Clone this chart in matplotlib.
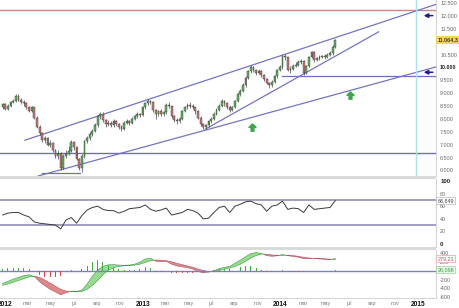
import numpy as np
import pandas as pd
import matplotlib
matplotlib.use('Agg')
import matplotlib.pyplot as plt
from matplotlib.patches import Rectangle

plt.rcParams['font.family'] = ['Liberation Sans', 'DejaVu Sans']

# weekly candles (IBEX 35), dec 2011 - may 2014
weeks = pd.date_range('2011-12-26', periods=127, freq='7D')
first_open = 8450
closes = [
    8566, 8400, 8520, 8650, 8700, 8900, 8750, 8650, 8600, 8450,
    8300, 8450, 8050, 7700, 7450, 7200, 7250, 7000, 7050, 6800,
    6550, 6650, 6100, 6550, 6650, 6750, 7100, 6900, 6450, 6100,
    6550, 7150, 7250, 7400, 7550, 7750, 8100, 8200, 7950, 7800,
    7850, 7750, 7900, 7800, 7700, 7600, 7850, 7900, 7850, 8000,
    8100, 8200, 8150, 8450, 8600, 8700, 8650, 8350, 8200, 8300,
    8200, 8250, 8550, 8500, 8100, 7950, 7900, 8000, 8300, 8450,
    8550, 8500, 8450, 8300, 8050, 7800, 7700, 7750, 7900, 8000,
    8200, 8350, 8500, 8700, 8600, 8450, 8350, 8450, 8700, 8950,
    9100, 9300, 9600, 9850, 10000, 9900, 9800, 9850, 9700, 9550,
    9400, 9300, 9450, 9650, 9900, 10000, 10450, 10400, 9900, 9950,
    10050, 10100, 10200, 10250, 9800, 10050, 10400, 10600, 10300, 10350,
    10400, 10450, 10400, 10500, 10550, 10800, 11064]
highs = [
    8620, 8610, 8580, 8700, 8780, 8960, 8950, 8820, 8720, 8650,
    8520, 8500, 8480, 8100, 7760, 7500, 7350, 7300, 7180, 7100,
    6850, 6800, 6700, 6620, 6800, 6950, 7200, 7150, 6950, 6500,
    6620, 7200, 7350, 7480, 7620, 7850, 8150, 8260, 8250, 8000,
    7950, 7920, 8000, 7960, 7850, 7750, 7900, 7980, 7950, 8060,
    8150, 8260, 8230, 8500, 8650, 8780, 8750, 8680, 8400, 8350,
    8380, 8320, 8620, 8640, 8520, 8150, 8020, 8080, 8350, 8500,
    8620, 8640, 8560, 8480, 8350, 8100, 7830, 7820, 7960, 8080,
    8250, 8420, 8560, 8760, 8750, 8650, 8500, 8520, 8750, 9000,
    9150, 9380, 9650, 9900, 10080, 10050, 9950, 9950, 9900, 9750,
    9600, 9450, 9500, 9700, 9950, 10080, 10500, 10520, 10420, 10050,
    10120, 10200, 10280, 10320, 10280, 10100, 10450, 10650, 10620, 10420,
    10480, 10500, 10520, 10560, 10620, 10850, 11100]
lows = [
    8400, 8330, 8350, 8480, 8600, 8650, 8680, 8580, 8520, 8380,
    8250, 8260, 7980, 7650, 7380, 7100, 7080, 6950, 6900, 6720,
    6480, 6450, 6030, 6050, 6480, 6600, 6700, 6800, 6400, 6020,
    5950, 6500, 7050, 7180, 7350, 7500, 7700, 8000, 7880, 7700,
    7720, 7680, 7700, 7720, 7600, 7520, 7560, 7800, 7760, 7800,
    7950, 8050, 8080, 8120, 8400, 8550, 8580, 8280, 8000, 8120,
    8130, 8100, 8200, 8430, 8020, 7880, 7800, 7850, 7960, 8250,
    8400, 8430, 8380, 8200, 7980, 7720, 7600, 7620, 7700, 7850,
    7950, 8150, 8300, 8450, 8520, 8380, 8280, 8300, 8420, 8650,
    8900, 9050, 9250, 9550, 9800, 9820, 9700, 9750, 9620, 9480,
    9350, 9200, 9250, 9400, 9600, 9850, 9950, 10300, 9850, 9800,
    9900, 10000, 10050, 10150, 9700, 9750, 10000, 10350, 10200, 10250,
    10300, 10350, 10320, 10380, 10450, 10500, 10750]

# indicators, read every second week
ind_weeks = weeks[::2]
rsi = [46, 49, 50, 50, 46, 43, 35, 33, 32, 31, 30, 24, 38, 42, 33, 45,
       54, 58, 60, 55, 53, 53, 49, 52, 56, 57, 58, 62, 55, 52, 54, 57,
       46, 48, 50, 55, 53, 49, 40, 41, 50, 58, 60, 50, 60, 63, 67, 68,
       64, 62, 52, 60, 62, 68, 55, 57, 56, 50, 62, 55, 56, 57, 58, 68.85]
macd = [-290, -240, -190, -150, -110, -90, -130, -250, -340, -420, -480, -545,
        -500, -460, -470, -440, -300, -120, 20, 100, 135, 140, 130, 125,
        130, 150, 200, 270, 285, 220, 205, 215, 150, 110, 90, 70,
        40, -20, -40, -30, 0, 50, 80, 100, 170, 240, 320, 390,
        415, 395, 345, 330, 340, 370, 345, 325, 310, 275, 275, 285,
        270, 262, 258, 279.21]
signal = [-330, -300, -260, -220, -180, -140, -125, -150, -210, -280, -350, -420,
          -460, -475, -475, -470, -420, -330, -220, -90, 10, 70, 100, 115,
          120, 130, 150, 190, 230, 245, 240, 230, 205, 170, 140, 110,
          80, 40, 5, -15, -10, 10, 40, 60, 100, 150, 215, 290,
          345, 380, 375, 360, 350, 350, 352, 345, 330, 305, 290, 285,
          280, 272, 265, 253.11]

# support / resistance levels
top_level = 12230
bottom_level = 6690
mid_level = 9680
low_level = 5900

price_ticks = [12500, 12000, 11500, 10500, 10000, 9500, 9000, 8500, 8000, 7500, 7000, 6500, 6000]
price_labels = ['12.500', '12.000', '11.500', '10.500', '10.000', '9.500', '9.000',
                '8.500', '8.000', '7.500', '7.000', '6.500', '6.000']
rsi_ticks = [100, 80, 60, 40, 20, 0]
macd_ticks = [400, 200, -200, -400, -600]
date_ticks = pd.date_range('2012-01-01', '2015-01-01', freq='2MS')
date_labels = ['2012', 'mar', 'may', 'jul', 'sep', 'nov',
               '2013', 'mar', 'may', 'jul', 'sep', 'nov',
               '2014', 'mar', 'may', 'jul', 'sep', 'nov', '2015']

W, H = 460, 308
fig = plt.figure(figsize=(W / 100, H / 100), dpi=100)


def panel(top, bottom, **kw):
    return fig.add_axes([0, 1 - bottom / H, 436 / W, (bottom - top) / H], **kw)


ax = panel(0, 176)
ax_rsi = panel(179, 247, sharex=ax)
ax_macd = panel(249.5, 298, sharex=ax)

for a in (ax, ax_rsi, ax_macd):
    for s in a.spines.values():
        s.set_visible(False)
    a.spines['right'].set_visible(True)
    a.spines['right'].set_color('#d5d5d5')
    a.yaxis.tick_right()
    a.tick_params(axis='y', length=0, pad=3, labelsize=3.9, labelcolor='#666666')
    a.tick_params(axis='x', length=0)
ax_macd.spines['bottom'].set_visible(True)
ax_macd.spines['bottom'].set_color('#d5d5d5')

# panel separators
for top, bottom in [(176, 179), (247, 249.5)]:
    fig.add_artist(Rectangle((0, 1 - bottom / H), 436 / W, (bottom - top) / H,
                             transform=fig.transFigure, color='#d9d9d9', lw=0))

# ---- candles
c = np.array(closes, dtype=float)
o = np.array([first_open] + closes[:-1], dtype=float)
up = c >= o
cols = np.where(up, '#5cb85c', '#d27878')
ax.vlines(weeks, lows, highs, color='#333333', lw=0.45, zorder=3)
ax.bar(weeks, np.maximum(np.abs(c - o), 12), bottom=np.minimum(o, c), width=4.8,
       color=cols, edgecolor='#333333', linewidth=0.3, zorder=4)

# levels and trend lines
line_c = '#7474c4'
ax.axhline(top_level, color='#c48a8a', lw=1)
ax.axhline(bottom_level, color='#6f6fb5', lw=1)
ax.plot([pd.Timestamp('2014-01-06'), pd.Timestamp('2015-02-17')], [mid_level, mid_level],
        color='#6f6fb5', lw=0.9)
ax.plot([pd.Timestamp('2012-04-08'), pd.Timestamp('2012-07-18')], [low_level, low_level],
        color='#6f6fb5', lw=0.9)
ax.plot([pd.Timestamp('2012-02-23'), pd.Timestamp('2015-02-20')], [7173, 12461], color=line_c, lw=0.9)
ax.plot([pd.Timestamp('2012-03-29'), pd.Timestamp('2015-02-20')], [5784, 10030], color=line_c, lw=0.9)
ax.plot([pd.Timestamp('2013-06-15'), pd.Timestamp('2014-09-18')], [7598, 11381], color=line_c, lw=0.9)

ax.axvline(pd.Timestamp('2014-12-26'), color='#a6e3ea', lw=1)

# arrows
for lvl in (12010, 9810):
    ax.annotate('', xy=(pd.Timestamp('2015-01-08'), lvl), xytext=(pd.Timestamp('2015-02-16'), lvl),
                arrowprops=dict(arrowstyle='-|>', color='#1c1c8a', lw=1.1, mutation_scale=6))
up_arrow = [(0, 1), (0.95, 0.05), (0.4, 0.05), (0.4, -1), (-0.4, -1), (-0.4, 0.05), (-0.95, 0.05), (0, 1)]
ax.scatter([pd.Timestamp('2013-10-18'), pd.Timestamp('2014-07-03')], [7675, 8910],
           marker=up_arrow, s=28, color='#3aa84a', zorder=5)

ax.set_ylim(5784, 12616)
ax.set_yticks(price_ticks)
ax.set_yticklabels(price_labels)
for lab in ax.get_yticklabels():
    if lab.get_text() == '10.000':
        lab.set_fontweight('bold')
        lab.set_color('#222222')
ytr = ax.get_yaxis_transform()
ax.text(1.003, closes[-1], '11.064,3', transform=ytr, fontsize=3.9, va='center', ha='left',
        bbox=dict(boxstyle='square,pad=0.2', fc='#f4d35e', ec='none'), clip_on=False)

# ---- RSI
ax_rsi.axhline(70, color='#9090b4', lw=1.2)
ax_rsi.axhline(30, color='#9090b4', lw=1.2)
ax_rsi.plot(ind_weeks, rsi, color='#3a3a3a', lw=0.7)
ax_rsi.set_ylim(-4.8, 103.2)
ax_rsi.set_yticks(rsi_ticks)
ax_rsi.set_yticklabels([str(t) for t in rsi_ticks])
for lab in ax_rsi.get_yticklabels():
    if lab.get_text() in ('100', '0'):
        lab.set_fontweight('bold')
        lab.set_color('#222222')
        lab.set_fontsize(4.3)
ax_rsi.text(1.003, rsi[-1], '68,849', transform=ax_rsi.get_yaxis_transform(), fontsize=3.9,
            va='center', ha='left', color='#444444',
            bbox=dict(boxstyle='square,pad=0.2', fc='white', ec='#aaaaaa', lw=0.4), clip_on=False)

# ---- MACD
m = np.array(macd)
sg = np.array(signal)
hist = m - sg
ax_macd.axhline(0, color='#8080b4', lw=1)
ax_macd.fill_between(ind_weeks, m, sg, where=m >= sg, interpolate=True,
                     color='#95dc8f', edgecolor='#3f9a3f', lw=0.4)
ax_macd.fill_between(ind_weeks, m, sg, where=m < sg, interpolate=True,
                     color='#e08888', edgecolor='#b0506a', lw=0.4)
ax_macd.bar(ind_weeks, hist, width=2.5, color=np.where(hist >= 0, '#3cb043', '#d04848'), zorder=3)
ax_macd.set_ylim(-618, 484)
ax_macd.set_yticks(macd_ticks)
ax_macd.set_yticklabels([str(t) for t in macd_ticks])
mtr = ax_macd.get_yaxis_transform()
ax_macd.text(1.003, macd[-1], '279,21', transform=mtr, fontsize=3.9, va='center', ha='left',
             color='#c04a5a', bbox=dict(boxstyle='square,pad=0.2', fc='white', ec='#e0a0a8', lw=0.5),
             clip_on=False)
ax_macd.text(1.003, hist[-1] - 5, '26,098', transform=mtr, fontsize=3.9, va='center', ha='left',
             color='#3a9a3a', bbox=dict(boxstyle='square,pad=0.2', fc='#e8f8e8', ec='#9ad49a', lw=0.5),
             clip_on=False)

ax.set_xlim(pd.Timestamp('2011-12-19'), pd.Timestamp('2015-02-17'))
ax.tick_params(labelbottom=False)
ax_rsi.tick_params(labelbottom=False)
ax_macd.set_xticks(date_ticks)
ax_macd.set_xticklabels(date_labels)
ax_macd.tick_params(axis='x', pad=2)
for lab in ax_macd.get_xticklabels():
    if lab.get_text().isdigit():
        lab.set_fontweight('bold')
        lab.set_fontsize(4.8)
        lab.set_color('#111111')
    else:
        lab.set_fontsize(3.8)
        lab.set_color('#777777')

fig.savefig('out.png', dpi=100)
